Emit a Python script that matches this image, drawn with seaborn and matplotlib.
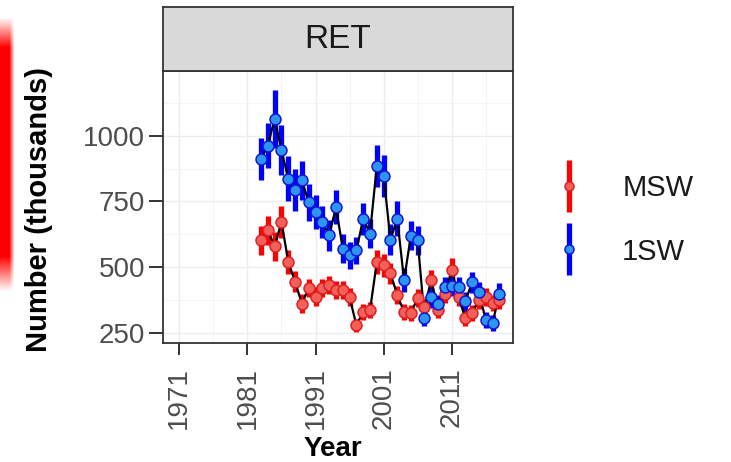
#	Returns by sea age - RET panel

#Import Necessary Libraries
import numpy as np
import pandas as pd
import seaborn as sns
import matplotlib
matplotlib.use('Agg')
from matplotlib import pyplot as plt
from matplotlib.lines import Line2D

#Data Creation
years = list(range(1983, 2019))
msw = [602, 640, 580, 672, 520, 444, 362, 420, 388, 420, 432, 413, 413, 386, 280, 330, 337, 519,
       507, 477, 395, 330, 326, 383, 348, 451, 337, 400, 490, 386, 307, 326, 375, 386, 364, 375]
msw_err = [55, 55, 55, 60, 45, 40, 35, 35, 35, 35, 35, 35, 35, 35, 25, 30, 30, 45,
           45, 40, 35, 30, 30, 35, 30, 40, 30, 35, 45, 35, 30, 30, 35, 35, 30, 35]
one_sw = [912, 962, 1065, 945, 836, 792, 830, 747, 709, 672, 621, 728, 571, 545, 564, 684, 628, 886,
          848, 605, 685, 451, 620, 602, 307, 385, 360, 424, 430, 424, 370, 443, 405, 299, 288, 400]
one_sw_err = [80, 85, 110, 95, 85, 80, 75, 70, 65, 60, 60, 65, 55, 50, 50, 60, 55, 80,
              80, 60, 65, 45, 55, 55, 30, 40, 35, 40, 40, 40, 35, 40, 40, 30, 30, 40]
ages = ['MSW', '1SW']
x_ticks = [1971, 1981, 1991, 2001, 2011]
y_ticks = [250, 500, 750, 1000]
panel = 'RET'

#Creating DataFrame
ret_data = pd.concat([
    pd.DataFrame({'Year': years, 'Number': msw, 'err': msw_err, 'Age': 'MSW'}),
    pd.DataFrame({'Year': years, 'Number': one_sw, 'err': one_sw_err, 'Age': '1SW'}),
], ignore_index=True)

bar_col = {'MSW': '#FF0000', '1SW': '#0000FF'}
fill_col = {'MSW': '#F2605A', '1SW': '#2A96F0'}
edge_col = {'MSW': '#E02020', '1SW': '#1414D8'}

#Visualization
sns.set_theme(style='white')
plt.rcParams['font.family'] = ['Liberation Sans', 'DejaVu Sans']

fig = plt.figure(figsize=(7.31, 4.62), dpi=100)
ax = fig.add_axes([163/731, 1-343/462, 350/731, 272/462])

for age in ages:
    sub = ret_data[ret_data['Age'] == age]
    ax.errorbar(sub['Year'], sub['Number'], yerr=sub['err'], fmt='none',
                ecolor=bar_col[age], elinewidth=3.8, zorder=2)

sns.lineplot(data=ret_data, x='Year', y='Number', units='Age', estimator=None,
             color='black', lw=1.6, ax=ax, zorder=2.5)

for age in ages:
    sub = ret_data[ret_data['Age'] == age]
    sns.scatterplot(data=sub, x='Year', y='Number', s=62, color=fill_col[age],
                    edgecolor=edge_col[age], linewidth=1.1, ax=ax, zorder=3, legend=False)

ax.set_xlim(1968.6, 2020.0)
ax.set_ylim(212, 1246)
ax.set_xticks(x_ticks)
ax.set_xticklabels([str(t) for t in x_ticks], rotation=90, va='top', ha='center')
ax.set_yticks(y_ticks)
ax.set_xticks([1976, 1986, 1996, 2006, 2016], minor=True)
ax.set_yticks([375, 625, 875, 1125], minor=True)
ax.grid(True, which='major', color='#EDEDED', lw=1.0)
ax.grid(True, which='minor', color='#F4F4F4', lw=0.6)
ax.set_axisbelow(True)
ax.set_xlabel('')
ax.set_ylabel('')
ax.tick_params(axis='both', which='major', width=1.4, color='#333333',
               labelsize=20, labelcolor='#4D4D4D', bottom=True, left=True)
ax.tick_params(axis='y', length=10, pad=3)
ax.tick_params(axis='x', length=8.5, pad=9)
ax.tick_params(which='minor', length=0)
for s in ax.spines.values():
    s.set_color('#333333')
    s.set_linewidth(1.3)

#Facet strip
strip = fig.add_axes([163/731, 1-71/462, 350/731, 64/462])
strip.set_facecolor('#D9D9D9')
strip.set_xticks([])
strip.set_yticks([])
for s in strip.spines.values():
    s.set_color('#333333')
    s.set_linewidth(1.3)
strip.text(0.5, 0.5, panel, ha='center', va='center', fontsize=24, color='#1A1A1A',
           transform=strip.transAxes)

#Axis titles
fig.text(39/731, 1-209/462, 'Number (thousands)', rotation=90, ha='center', va='center',
         fontsize=21, fontweight='bold', color='black')
fig.text(333/731, 1-449/462, 'Year', ha='center', va='center',
         fontsize=20, fontweight='bold', color='black')

#Legend
handles = []
for age in ages:
    bar = Line2D([], [], ls='none', marker='|', ms=37, mew=3.8, color=bar_col[age])
    pt = Line2D([], [], ls='none', marker='o', ms=6.5, mfc=fill_col[age], mec=edge_col[age], mew=1.1)
    handles.append((bar, pt))
fig.legend(handles, ages, loc='center left', bbox_to_anchor=(554/731, 1-220/462),
           frameon=False, fontsize=21, handlelength=1.0, handletextpad=1.34,
           labelspacing=1.2, borderpad=0, borderaxespad=0, labelcolor='#1A1A1A')

#Red edge blur on the left
edge_ax = fig.add_axes([0, 1-292/462, 16/731, 277/462])
edge_ax.axis('off')
h, w = 277, 16
col_a = np.clip((14 - np.arange(w)) / 5.0, 0, 1)
row_a = np.clip(np.minimum((np.arange(h) - 2) / 30.0, (h - 1 - np.arange(h)) / 35.0), 0, 1)
alpha = np.outer(row_a, col_a)
rgba = np.zeros((h, w, 4))
rgba[..., 0] = 1.0
rgba[..., 3] = alpha
edge_ax.imshow(rgba, aspect='auto', interpolation='bilinear')

#Save Plot
fig.savefig('out.png', dpi=100)
